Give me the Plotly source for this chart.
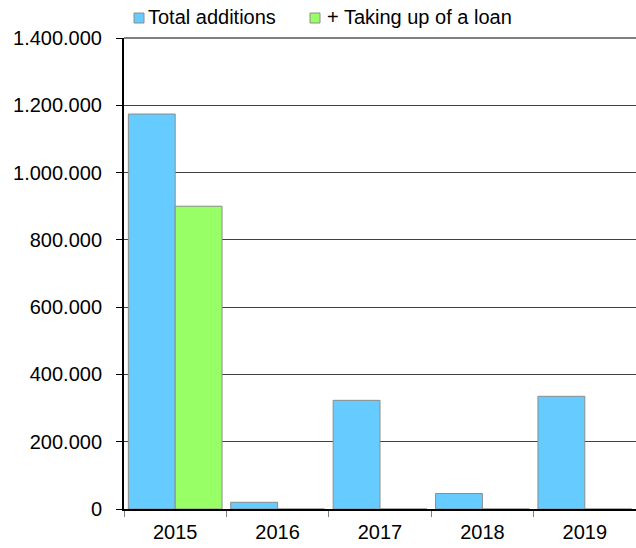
import plotly.graph_objects as go

years = ["2015", "2016", "2017", "2018", "2019"]
total_additions = [1174000, 20000, 323000, 46000, 335000]
loan_taking = [900000, 0, 0, 0, 0]

series_names = ["Total additions", "+ Taking up of a loan"]
series_colors = ["#66CCFF", "#99FF66"]
outline = "#8C8C8C"

W, H = 636, 548
ML, MR, MT, MB = 124, 0, 38, 39
PW, PH = W - ML - MR, H - MT - MB


def px_x(px):
    return (px - ML) / PW


def px_y(py):
    return (H - MB - py) / PH


fig = go.Figure()
for name, vals, col in zip(series_names, [total_additions, loan_taking], series_colors):
    fig.add_trace(go.Bar(
        x=years, y=vals, name=name,
        marker=dict(color=col, line=dict(color=outline, width=1)),
    ))

fig.update_layout(
    width=W, height=H,
    margin=dict(l=ML, r=MR, t=MT, b=MB),
    plot_bgcolor="white", paper_bgcolor="white",
    barmode="group", bargap=0.085, bargroupgap=0,
    separators=",.",
    font=dict(family="Liberation Sans, Arial, sans-serif", size=20, color="black"),
    showlegend=False,
)

fig.update_xaxes(
    type="category", range=[-0.5, 4.5],
    showline=True, linecolor="black", linewidth=2,
    ticks="outside", tickson="boundaries", ticklen=6, tickcolor="#808080",
    showgrid=False, tickfont=dict(size=20), ticklabelstandoff=4,
)
fig.update_yaxes(
    range=[0, 1400000], dtick=200000, tickformat=",d",
    showline=True, linecolor="black", linewidth=2,
    ticks="outside", ticklen=6, tickcolor="black",
    showgrid=True, gridcolor="#404040", gridwidth=1,
    zeroline=False, tickfont=dict(size=20), ticklabelstandoff=10,
)

# gray frame line at the top of the plotting area
fig.add_shape(type="line", xref="paper", yref="paper", x0=0, x1=1, y0=1, y1=1,
              line=dict(color="#808080", width=2))

# legend row above the plot: small square swatch followed by the series name
legend_items = [(134, 146, series_names[0], series_colors[0]),
                (310, 325, series_names[1], series_colors[1])]
for sx, tx, name, col in legend_items:
    fig.add_shape(type="rect", xref="paper", yref="paper",
                  x0=px_x(sx), x1=px_x(sx + 10), y0=px_y(23), y1=px_y(13),
                  fillcolor=col, line=dict(color=outline, width=1))
    fig.add_annotation(xref="paper", yref="paper", x=px_x(tx), y=px_y(17),
                       xanchor="left", yanchor="middle", showarrow=False,
                       text=name, font=dict(size=20, color="black"))

fig.write_html("out.html")
